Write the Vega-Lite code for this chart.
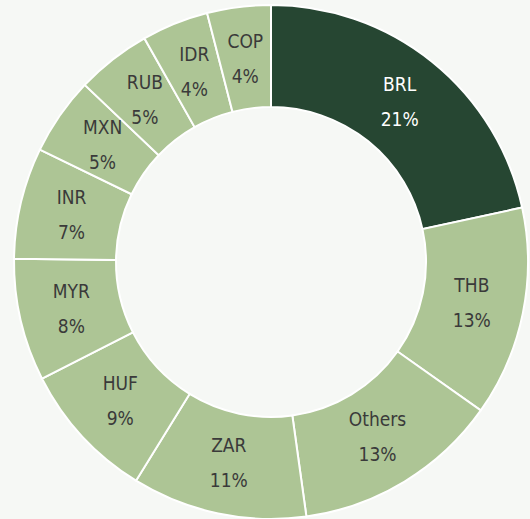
{
  "$schema": "https://vega.github.io/schema/vega-lite/v6.json",
  "width": 514,
  "height": 514,
  "padding": {"left": 10, "top": 1, "right": 6, "bottom": 4},
  "background": "#f6f8f5",
  "view": {"stroke": null},
  "data": {
    "values": [
      {"ccy": "BRL", "pct": "21%", "value": 21.6, "order": 1},
      {"ccy": "THB", "pct": "13%", "value": 13.2, "order": 2},
      {"ccy": "Others", "pct": "13%", "value": 13.0, "order": 3},
      {"ccy": "ZAR", "pct": "11%", "value": 11.0, "order": 4},
      {"ccy": "HUF", "pct": "9%", "value": 8.7, "order": 5},
      {"ccy": "MYR", "pct": "8%", "value": 7.7, "order": 6},
      {"ccy": "INR", "pct": "7%", "value": 7.0, "order": 7},
      {"ccy": "MXN", "pct": "5%", "value": 4.9, "order": 8},
      {"ccy": "RUB", "pct": "5%", "value": 4.7, "order": 9},
      {"ccy": "IDR", "pct": "4%", "value": 4.2, "order": 10},
      {"ccy": "COP", "pct": "4%", "value": 4.0, "order": 11}
    ]
  },
  "encoding": {
    "theta": {"field": "value", "type": "quantitative", "stack": true},
    "order": {"field": "order", "type": "quantitative"}
  },
  "layer": [
    {
      "mark": {"type": "arc", "innerRadius": 155, "outerRadius": 257, "stroke": "#ffffff", "strokeWidth": 2},
      "encoding": {
        "color": {
          "condition": {"test": "datum.ccy === 'BRL'", "value": "#264632"},
          "value": "#adc595"
        }
      }
    },
    {
      "mark": {"type": "text", "radius": 205, "dy": -17, "fontSize": 19, "font": "DejaVu Sans Condensed"},
      "encoding": {
        "text": {"field": "ccy"},
        "color": {
          "condition": {"test": "datum.ccy === 'BRL'", "value": "#ffffff"},
          "value": "#3a3a3a"
        }
      }
    },
    {
      "mark": {"type": "text", "radius": 205, "dy": 18, "fontSize": 19, "font": "DejaVu Sans Condensed"},
      "encoding": {
        "text": {"field": "pct"},
        "color": {
          "condition": {"test": "datum.ccy === 'BRL'", "value": "#ffffff"},
          "value": "#3a3a3a"
        }
      }
    }
  ]
}
